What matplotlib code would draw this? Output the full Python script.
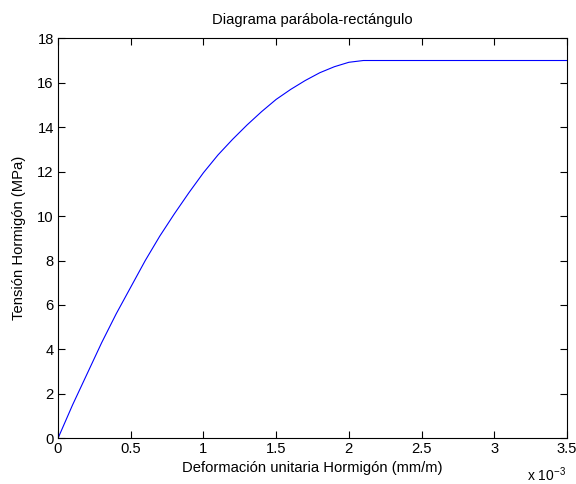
import matplotlib
matplotlib.use("Agg")
import matplotlib.pyplot as plt

plt.rcParams["font.family"] = ["Liberation Sans", "DejaVu Sans"]
plt.rcParams["mathtext.fontset"] = "custom"
plt.rcParams["mathtext.rm"] = "Liberation Sans"

# Concrete strain (x 10^-3) and stress (MPa), parabola-rectangle law
strain_e3 = [0.0, 0.1, 0.2, 0.3, 0.4, 0.5, 0.6, 0.7, 0.8, 0.9, 1.0,
             1.1, 1.2, 1.3, 1.4, 1.5, 1.6, 1.7, 1.8, 1.9, 2.0, 2.1, 3.5]
stress = [0.0, 1.5, 2.9, 4.3, 5.6, 6.8, 8.0, 9.1, 10.1, 11.05, 11.95,
          12.75, 13.45, 14.1, 14.7, 15.25, 15.7, 16.1, 16.45, 16.72, 16.92, 17.0, 17.0]

x_ticks_e3 = [0, 0.5, 1, 1.5, 2, 2.5, 3, 3.5]
x_tick_labels = ["0", "0.5", "1", "1.5", "2", "2.5", "3", "3.5"]
y_ticks = [0, 2, 4, 6, 8, 10, 12, 14, 16, 18]

strain = [v * 1e-3 for v in strain_e3]
fs = 10.6

fig = plt.figure(figsize=(5.76, 4.84), dpi=100)
ax = fig.add_axes([0.1007, 0.0944, 0.8837, 0.8265])
ax.plot(strain, stress, color="#0000ff", linewidth=0.8)

ax.set_xlim(0, 3.5e-3)
ax.set_ylim(0, 18)
ax.set_xticks([v * 1e-3 for v in x_ticks_e3])
ax.set_xticklabels(x_tick_labels)
ax.set_yticks(y_ticks)
ax.tick_params(direction="in", length=5, width=0.8, top=True, right=True,
               labelsize=fs, pad=3)
for s in ax.spines.values():
    s.set_linewidth(0.8)

ax.set_title("Diagrama parábola-rectángulo", fontsize=fs, pad=10)
ax.set_xlabel("Deformación unitaria Hormigón (mm/m)", fontsize=fs, labelpad=3)
ax.set_ylabel("Tensión Hormigón (MPa)", fontsize=fs, labelpad=8)
fig.text(0.982, 0.0, r"x 10$^{\mathrm{-3}}$", fontsize=fs - 0.6,
         ha="right", va="bottom")

fig.savefig("out.png", dpi=100)
